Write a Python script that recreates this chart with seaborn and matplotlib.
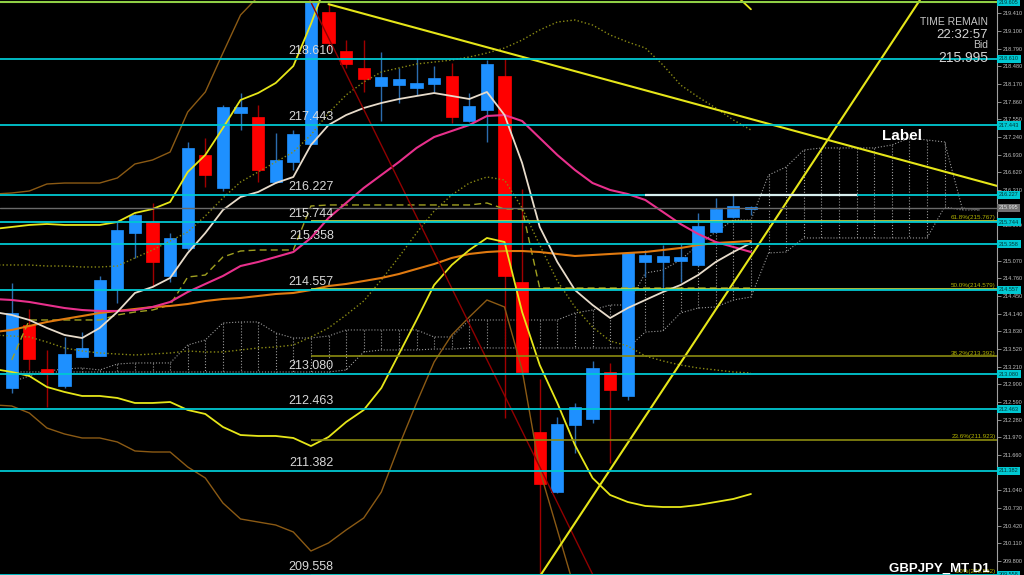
"""
GBPJPY daily chart in the style of a MetaTrader terminal window.
"""

import matplotlib

matplotlib.use("Agg")

import matplotlib.pyplot as plt
import numpy as np
import seaborn as sns

# --- price data (oldest bar first) ---
opens = [212.836, 213.941, 213.169, 212.871, 213.380, 213.397, 214.573, 215.555, 215.748, 214.801,
         215.292, 216.924, 216.345, 217.660, 217.590, 216.450, 216.801, 217.117, 219.432, 218.748,
         218.450, 218.134, 218.152, 218.099, 218.169, 218.310, 217.520, 217.713, 218.310, 214.696,
         212.064, 211.011, 212.187, 212.292, 213.117, 212.696, 215.047, 215.047, 215.064, 214.994,
         215.573, 215.836, 215.976]
highs = [214.678, 214.222, 213.503, 213.731, 213.818, 214.801, 215.748, 215.890, 216.082, 215.555,
         217.152, 217.222, 217.800, 218.011, 217.801, 217.310, 217.362, 219.605, 219.590, 218.941,
         218.941, 218.731, 218.450, 218.625, 218.485, 218.538, 218.011, 218.590, 218.625, 216.327,
         212.994, 212.327, 212.573, 213.310, 213.275, 215.220, 215.257, 215.345, 215.380, 215.906,
         216.169, 216.222, 216.029]
lows = [212.748, 213.152, 212.503, 212.836, 213.380, 213.397, 214.327, 215.117, 214.608, 214.696,
        215.257, 216.362, 216.300, 217.362, 216.450, 216.430, 216.661, 217.100, 218.766, 218.450,
        218.029, 217.520, 217.836, 217.976, 218.029, 217.485, 217.500, 217.152, 212.310, 213.064,
        209.552, 210.990, 211.696, 212.222, 211.520, 212.626, 214.783, 214.555, 214.696, 214.980,
        215.560, 215.820, 215.871]
closes = [214.152, 213.345, 213.081, 213.433, 213.538, 214.731, 215.608, 215.871, 215.047, 215.468,
          217.046, 216.573, 217.766, 217.766, 216.661, 216.836, 217.292, 219.605, 218.889, 218.520,
          218.257, 218.292, 218.257, 218.187, 218.275, 217.590, 217.783, 218.520, 214.801, 213.117,
          211.152, 212.204, 212.503, 213.187, 212.801, 215.204, 215.169, 215.152, 215.134, 215.678,
          215.976, 216.029, 215.995]

# --- indicators (first value belongs to the bar just left of the window) ---
ma_fast = [214.169, 214.117, 214.029, 213.889, 213.766, 213.713, 213.889, 214.169, 214.503, 214.608,
           214.766, 215.204, 215.555, 215.959, 216.187, 216.275, 216.432, 216.538, 217.099, 217.450,
           217.625, 217.748, 217.836, 217.906, 217.959, 218.011, 217.959, 217.906, 218.029, 217.625,
           216.783, 215.661, 215.047, 214.555, 214.292, 214.064, 214.239, 214.380, 214.520, 214.643,
           214.818, 215.047, 215.222, 215.380]
ma_mid = [214.397, 214.380, 214.345, 214.292, 214.239, 214.204, 214.187, 214.187, 214.204, 214.257,
          214.345, 214.520, 214.661, 214.801, 214.976, 215.047, 215.134, 215.222, 215.468, 215.818,
          216.082, 216.345, 216.573, 216.801, 217.047, 217.239, 217.345, 217.450, 217.608, 217.625,
          217.520, 217.222, 216.924, 216.661, 216.432, 216.310, 216.239, 216.134, 215.924, 215.713,
          215.538, 215.397, 215.310, 215.222]
ma_slow = [213.818, 213.854, 213.924, 213.994, 214.047, 214.099, 214.152, 214.187, 214.222, 214.257,
           214.275, 214.310, 214.362, 214.397, 214.415, 214.450, 214.485, 214.503, 214.555, 214.625,
           214.661, 214.713, 214.766, 214.836, 214.924, 215.011, 215.117, 215.187, 215.222, 215.239,
           215.239, 215.222, 215.187, 215.152, 215.169, 215.187, 215.204, 215.222, 215.257, 215.292,
           215.345, 215.380, 215.397, 215.415]
bb_upper = [215.626, 215.661, 215.696, 215.713, 215.696, 215.696, 215.696, 215.748, 215.906, 215.976,
            216.099, 216.625, 216.924, 217.397, 217.889, 218.011, 218.187, 218.485, 219.222, 220.050,
            220.250, 220.350, 220.400, 220.400, 220.380, 220.350, 220.300, 220.280, 220.300, 220.600,
            221.000, 221.400, 221.500, 221.450, 221.300, 221.150, 221.000, 220.850, 220.650, 220.450,
            220.250, 220.050, 219.770, 219.480]
bb_lower = [213.169, 213.117, 213.047, 212.854, 212.766, 212.696, 212.696, 212.661, 212.573, 212.573,
            212.590, 212.450, 212.380, 212.152, 212.011, 211.994, 211.994, 211.959, 211.818, 211.976,
            212.239, 212.450, 212.836, 213.432, 214.029, 214.643, 214.994, 215.257, 215.468, 215.397,
            214.169, 213.239, 212.573, 211.836, 211.257, 210.959, 210.836, 210.766, 210.748, 210.748,
            210.783, 210.836, 210.889, 210.976]
bb3_upper = [216.239, 216.257, 216.292, 216.415, 216.432, 216.432, 216.432, 216.520, 216.766, 216.836,
             216.976, 217.678, 218.029, 218.713, 219.380, 219.700, 220.200]
bb3_lower = [212.538, 212.520, 212.397, 212.134, 212.029, 211.959, 211.959, 211.889, 211.731, 211.713,
             211.713, 211.450, 211.257, 210.818, 210.538, 210.485, 210.432, 210.310, 209.976, 210.117,
             210.345, 210.555, 211.011, 211.818, 212.573, 213.292, 213.766, 214.082, 214.380, 214.257,
             213.152, 211.397, 210.345, 209.292, 208.600, 208.200, 208.000, 207.900, 207.900, 207.900,
             208.000, 208.000, 208.100, 208.200]
bb1_upper = [214.994, 214.994, 214.994, 214.976, 214.976, 214.959, 214.959, 214.976, 215.117, 215.257,
             215.415, 215.573, 215.854, 216.169, 216.450, 216.625, 216.801, 216.976, 217.275, 217.661,
             217.976, 218.204, 218.380, 218.450, 218.520, 218.555, 218.590, 218.643, 218.713, 218.801,
             218.941, 219.117, 219.257, 219.292, 219.204, 219.029, 218.906, 218.801, 218.503, 218.152,
             217.941, 217.748, 217.538, 217.362]
bb1_lower = [213.766, 213.748, 213.731, 213.643, 213.538, 213.485, 213.450, 213.432, 213.415, 213.432,
             213.450, 213.485, 213.468, 213.468, 213.503, 213.538, 213.555, 213.590, 213.731, 213.889,
             214.117, 214.362, 214.731, 215.134, 215.555, 215.941, 216.222, 216.432, 216.538, 216.485,
             215.994, 215.345, 214.713, 214.257, 213.906, 213.661, 213.573, 213.397, 213.310, 213.239,
             213.187, 213.152, 213.117, 213.099]
kijun = [213.327, 214.029, 214.029, 214.029, 214.029, 214.029, 214.117, 214.169, 214.204, 214.292,
         214.783, 214.818, 215.134, 215.239, 215.257, 215.257, 215.257, 216.029, 216.047, 216.047,
         216.047, 216.047, 216.047, 216.047, 216.047, 216.047, 216.047, 216.082, 215.976, 215.976,
         214.590, 214.590, 214.590, 214.590, 214.590, 214.590, 214.590, 214.590, 214.590, 214.590,
         214.590, 214.590, 214.590]
span_a = [212.941, 213.047, 213.134, 213.169, 213.187, 213.152, 213.257, 213.275, 213.275, 213.275,
          213.590, 213.678, 213.976, 213.994, 213.994, 213.801, 213.713, 213.713, 213.748, 213.854,
          213.854, 213.854, 213.854, 213.854, 213.731, 213.731, 214.029, 214.029, 214.029, 214.029,
          214.029, 214.029, 214.152, 214.204, 214.292, 214.292, 214.854, 214.906, 215.082, 215.345,
          215.573, 215.783, 215.783, 216.573, 216.713, 217.011, 217.047, 217.047, 217.047, 217.047,
          217.099, 217.222, 217.187, 217.152, 215.994, 215.959]
span_b = [213.117, 213.117, 213.117, 213.117, 213.117, 213.117, 213.117, 213.117, 213.117, 213.117,
          213.117, 213.117, 213.117, 213.117, 213.117, 213.117, 213.117, 213.117, 213.117, 213.152,
          213.468, 213.503, 213.503, 213.503, 213.520, 213.520, 213.538, 213.538, 213.538, 213.538,
          213.538, 213.538, 213.538, 213.538, 213.538, 213.538, 213.818, 213.836, 214.152, 214.239,
          214.257, 214.380, 214.432, 215.204, 215.222, 215.468, 215.468, 215.468, 215.468, 215.468,
          215.468, 215.468, 215.468, 216.011, 215.959, 215.959]

# --- drawn objects ---
levels = [218.610, 217.443, 216.227, 215.744, 215.358, 214.557, 213.080, 212.463, 211.382, 209.558]
fib_top = 219.605
fib_levels = [215.767, 214.579, 213.392, 211.923, 209.552]
fib_labels = ["61.8%(215.767)", "50.0%(214.579)", "38.2%(213.392)", "23.6%(211.923)", "0.0%(209.552)"]
fib_colors = ["#c8dc48", "#c8dc48", "#8c8c10", "#8c8c10", "#8c8c10"]
bid = 215.995
red_trend = [(17, 219.605), (33, 209.570)]
down_trend = [(18, 219.570), (56, 216.380)]
up_trend = [(30, 209.530), (52, 219.830)]
right_ticks = [209.800, 210.110, 210.420, 210.730, 211.040, 211.350, 211.660, 211.970, 212.280,
               212.590, 212.900, 213.210, 213.520, 213.830, 214.140, 214.450, 214.760, 215.070,
               215.380, 215.690, 216.000, 216.310, 216.620, 216.930, 217.240, 217.550, 217.860,
               218.170, 218.480, 218.790, 219.100, 219.410]

CYAN = "#00c8d2"

sns.set_theme(style="dark", rc={"axes.facecolor": "black", "figure.facecolor": "black"})
plt.rcParams["font.family"] = ["Liberation Sans", "DejaVu Sans"]

fig = plt.figure(figsize=(10.24, 5.75), dpi=100)
ax = fig.add_axes([0, 0, 997 / 1024, 1])
ax.set_facecolor("black")

idx = np.arange(len(opens))
ind_idx = np.arange(-1, len(opens))
cloud_idx = np.arange(len(span_a))

# ichimoku cloud, dotted outline plus hatching
cloud_kw = dict(color="#9a9a9a", linewidth=0.8, linestyle=":", zorder=1)
sns.lineplot(x=cloud_idx, y=span_a, ax=ax, **cloud_kw)
sns.lineplot(x=cloud_idx, y=span_b, ax=ax, **cloud_kw)
ax.vlines(cloud_idx, span_a, span_b, colors="#9a9a9a", linewidth=0.8, linestyles=":", zorder=1)

# candles
o = np.array(opens)
c = np.array(closes)
h = np.array(highs)
lo = np.array(lows)
up = c >= o
body_low = np.minimum(o, c)
body_h = np.maximum(np.abs(c - o), 0.03)

ax.vlines(idx[up], lo[up], h[up], colors="#2c6cae", linewidth=1.0, zorder=3)
ax.vlines(idx[~up], lo[~up], h[~up], colors="#a00000", linewidth=1.0, zorder=3)
ax.bar(idx[up], body_h[up], bottom=body_low[up], width=0.7, color="#1e90ff",
       edgecolor="#1e90ff", linewidth=0.5, zorder=4)
ax.bar(idx[~up], body_h[~up], bottom=body_low[~up], width=0.7, color="#ff0000",
       edgecolor="#ff0000", linewidth=0.5, zorder=4)

# bands and moving averages
sns.lineplot(x=ind_idx, y=bb1_upper, ax=ax, color="#8a8a14", linewidth=1.0, linestyle=":", zorder=5)
sns.lineplot(x=ind_idx, y=bb1_lower, ax=ax, color="#8a8a14", linewidth=1.0, linestyle=":", zorder=5)
sns.lineplot(x=idx, y=kijun, ax=ax, color="#a0a020", linewidth=1.0, linestyle=(0, (5, 3)), zorder=5)
sns.lineplot(x=ind_idx[:len(bb3_upper)], y=bb3_upper, ax=ax, color="#8b5a14", linewidth=1.0, zorder=5)
sns.lineplot(x=ind_idx, y=bb3_lower, ax=ax, color="#8b5a14", linewidth=1.0, zorder=5)
sns.lineplot(x=ind_idx, y=ma_slow, ax=ax, color="#e07a10", linewidth=1.5, zorder=5)
sns.lineplot(x=ind_idx, y=ma_mid, ax=ax, color="#e8308c", linewidth=1.5, zorder=5)
sns.lineplot(x=ind_idx, y=ma_fast, ax=ax, color="#e8dccb", linewidth=1.3, zorder=5)
sns.lineplot(x=ind_idx, y=bb_upper, ax=ax, color="#e6e619", linewidth=1.3, zorder=5)
sns.lineplot(x=ind_idx, y=bb_lower, ax=ax, color="#e6e619", linewidth=1.3, zorder=5)

# trend lines
ax.axline(red_trend[0], red_trend[1], color="#900000", linewidth=1.0, zorder=5)
ax.plot([p[0] for p in down_trend], [p[1] for p in down_trend], color="#e6e619", linewidth=1.5, zorder=6)
ax.axline(up_trend[0], up_trend[1], color="#e6e619", linewidth=1.5, zorder=6)

# horizontal levels
ax.axhline(bid, color="#6a6a6a", linewidth=1.0, zorder=6)
for lv, lab, col in zip(fib_levels, fib_labels, fib_colors):
    ax.hlines(lv, 17, 60, color=col, linewidth=1.2, zorder=6)
    ax.annotate(lab, xy=(55.9, lv), xytext=(0, 0.5), textcoords="offset points",
                ha="right", va="bottom", fontsize=4.5, color="#b4b400", zorder=8)
ax.axhline(fib_top, color="#8fcf45", linewidth=1.5, zorder=6)
for lv in levels:
    ax.axhline(lv, color=CYAN, linewidth=1.3, zorder=7)
    ax.annotate(f"{lv:.3f}", xy=(18.3, lv), xytext=(0, 1.5), textcoords="offset points",
                ha="right", va="bottom", fontsize=9, color="#d8d8d8", zorder=8)
ax.hlines(levels[2], 36, 48, color="#d8f0f0", linewidth=1.6, zorder=7)

ax.set_xlim(-0.665, 55.98)
ax.set_ylim(209.555, 219.643)

# right price scale; scale values hidden under a level box are not printed
boxed = levels + [fib_top, bid]
shown_ticks = [t for t in right_ticks if min(abs(t - b) for b in boxed) > 0.04]
ax.yaxis.tick_right()
ax.set_yticks(shown_ticks)
ax.set_yticklabels([f"{t:.3f}" for t in shown_ticks])
ax.tick_params(axis="y", which="both", right=True, left=False, labelright=True, labelleft=False,
               labelsize=4, labelcolor="#c0c0c0", color="#a0a0a0", length=3, width=0.6, pad=1)
ax.set_xticks([])
for side in ["top", "left", "bottom"]:
    ax.spines[side].set_visible(False)
ax.spines["right"].set_color("#a0a0a0")
ax.spines["right"].set_linewidth(0.8)

ytr = ax.get_yaxis_transform()
for lv in levels + [fib_top]:
    ax.text(1.002, lv, f"{lv:.3f}", transform=ytr, ha="left", va="center", fontsize=4,
            color="#003838", clip_on=False, zorder=9,
            bbox=dict(boxstyle="square,pad=0.3", fc=CYAN, ec="none"))
ax.text(1.002, bid, f"{bid:.3f}", transform=ytr, ha="left", va="center", fontsize=4,
        color="#e8e8e8", clip_on=False, zorder=9,
        bbox=dict(boxstyle="square,pad=0.3", fc="#707070", ec="none"))

# terminal overlay texts
fig.text(988 / 1024, 1 - 22 / 575, "TIME REMAIN", ha="right", va="center", fontsize=7.5, color="#c4c4c4")
fig.text(988 / 1024, 1 - 35 / 575, "22:32:57", ha="right", va="center", fontsize=9.5, color="#d4d4d4")
fig.text(988 / 1024, 1 - 45 / 575, "Bid", ha="right", va="center", fontsize=7.5, color="#c4c4c4")
fig.text(988 / 1024, 1 - 58 / 575, "215.995", ha="right", va="center", fontsize=10, color="#d4d4d4")
ax.text(50.6, 217.25, "Label", ha="center", va="center", fontsize=11, fontweight="bold", color="white", zorder=9)
fig.text(990 / 1024, 1 - 569 / 575, "GBPJPY_MT D1", ha="right", va="center", fontsize=9.5,
         fontweight="bold", color="white")

fig.savefig("out.png", dpi=100, facecolor="black")
